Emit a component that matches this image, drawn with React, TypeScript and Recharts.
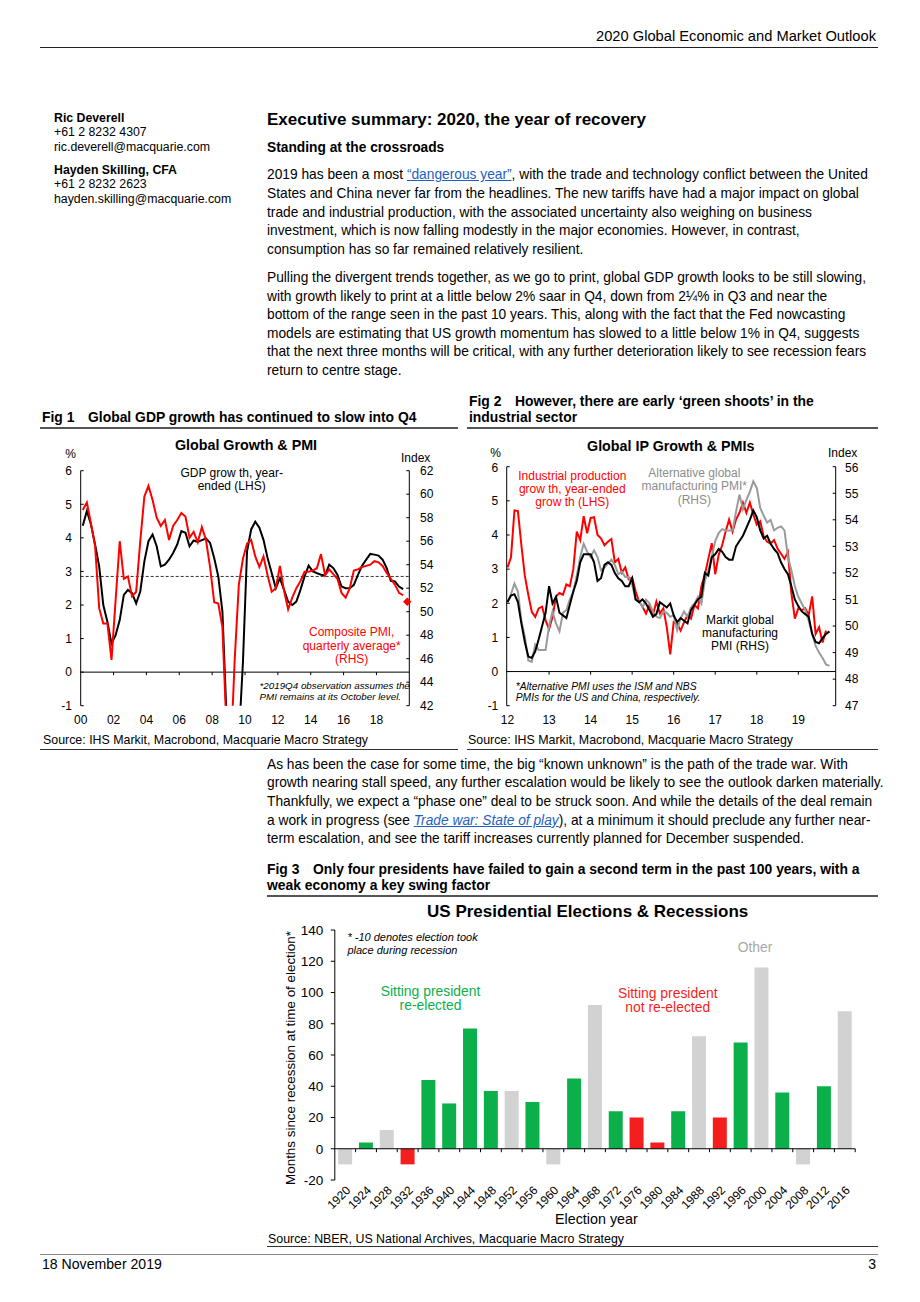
import React from "react"
import { Bar, BarChart, Cell, ComposedChart, Line, ReferenceLine, XAxis, YAxis } from "recharts"

const FONT = '"Liberation Sans", Arial, Helvetica, sans-serif'

// ---------- Fig 1: quarterly, 2000Q1 .. 2019Q3 ----------
const fig1Gdp = [
    4.36, 4.8, 4.4, 3.8, 3.15, 2.0, 1.5, 0.85, 1.1, 1.55, 2.3, 2.45, 2.35, 2.05, 2.4, 3.3,
    3.9, 4.1, 3.75, 3.15, 3.2, 3.35, 3.55, 3.8, 4.2, 4.15, 3.75, 3.92, 3.88, 3.93, 3.98, 3.85,
    3.4, 2.85, 1.8, -1.3, -2.5, -2.8, -2.0, 0.3, 3.6, 4.25, 4.48, 4.3, 3.94, 3.4, 2.95, 2.5,
    2.8, 2.45, 2.1, 2.0, 2.1, 2.45, 2.85, 3.17, 3.0, 2.95, 2.9, 2.88, 3.2, 3.1, 2.9, 2.55,
    2.5, 2.5, 2.6, 2.9, 3.17, 3.35, 3.52, 3.5, 3.47, 3.35, 3.1, 2.72, 2.7, 2.55, 2.47,
]
const fig1Pmi = [
    58.65, 59.3, 57.5, 55.6, 50.3, 49.0, 49.0, 45.9, 51.0, 56.0, 52.8, 53.0, 51.3, 51.7, 56.0, 59.8,
    60.7, 59.5, 58.0, 57.3, 57.8, 56.1, 57.3, 57.8, 58.4, 58.1, 56.3, 56.8, 55.9, 57.2, 56.1, 53.8,
    50.8, 50.7, 48.7, 40.0, 37.5, 46.0, 52.3, 54.5, 55.8, 56.1, 54.7, 53.8, 54.7, 53.1, 51.7, 52.0,
    53.9, 51.8, 50.2, 51.2, 52.0, 52.6, 53.4, 53.4, 53.5, 53.7, 54.9, 53.1, 53.6, 53.2, 52.8, 51.6,
    51.2, 52.0, 53.5, 53.6, 53.8, 53.9, 54.0, 54.3, 54.2, 53.9, 53.3, 52.8, 52.3, 51.6, 51.4,
]
const fig1PmiQ4 = 50.85
const fig1GdpAverage = 2.85
const fig1Years = [2000, 2002, 2004, 2006, 2008, 2010, 2012, 2014, 2016, 2018]
const fig1LeftTicks = [-1, 0, 1, 2, 3, 4, 5, 6]
const fig1RightTicks = [42, 44, 46, 48, 50, 52, 54, 56, 58, 60, 62]

const fig1Rows = fig1Pmi.concat([fig1PmiQ4]).map((_, i) => ({
    t: 2000 + i / 4 + 0.125,
    gdp: i < fig1Gdp.length ? fig1Gdp[i] : null,
    pmi: i < fig1Pmi.length ? fig1Pmi[i] : null,
    pmiEst: i === fig1Pmi.length ? fig1PmiQ4 : null,
}))

// ---------- Fig 2: monthly, Jan 2012 .. Oct 2019 ----------
const fig2Ip = [
    3.05, 3.35, 4.72, 4.7, 3.7, 2.8, 2.25, 1.75, 1.6, 1.85, 1.9, 1.5,
    1.25, 1.6, 2.2, 2.3, 2.25, 2.55, 2.5, 3.0, 4.1, 3.85, 4.55, 4.05,
    4.5, 4.52, 4.0, 3.9, 3.7, 3.8, 3.88, 3.2, 3.3, 2.9, 3.05, 2.7,
    2.75, 2.35, 2.05, 1.9, 1.7, 1.95, 1.65, 2.05, 1.7, 1.85, 1.3, 0.5,
    1.45, 1.4, 1.2, 1.45, 1.65, 1.55, 1.95, 1.85, 2.5, 2.84, 3.3, 3.76,
    2.85, 3.42, 3.7, 4.1, 4.45, 4.1, 4.45, 4.65, 4.95, 4.65, 4.95, 4.6,
    4.3, 4.4, 3.95, 3.8, 3.75, 3.85, 3.6, 3.45, 3.3, 3.5, 2.3, 1.55,
    1.85, 1.8, 1.85, 1.65, 2.2, 1.1, 1.3, 0.85, 1.2,
]
const fig2Markit = [
    50.9, 51.15, 51.2, 50.9, 50.1, 49.4, 48.85, 48.8, 49.05, 49.5, 50.0, 50.5,
    51.5, 50.85, 51.1, 50.5, 50.4, 50.3, 50.8, 51.3, 51.7, 52.4, 52.7, 52.7,
    52.7, 52.4, 51.7, 51.8, 52.3, 52.4, 52.3, 52.0, 51.8, 51.7, 51.5, 51.5,
    51.8, 51.0, 50.9, 51.0, 50.85, 50.6, 50.35, 50.45, 50.9, 50.8, 50.7, 50.85,
    50.4, 50.15, 50.3, 50.2, 50.1, 50.6, 50.8, 51.0, 51.1, 52.0, 51.9, 52.6,
    52.7, 52.9, 52.8, 52.6, 52.5, 52.5, 53.0, 53.2, 53.4, 53.7, 54.0, 54.35,
    54.1, 53.6, 53.3, 53.4, 53.1, 52.9, 52.75, 52.4, 52.15, 51.95, 51.5, 51.0,
    50.75, 50.55, 50.45, 50.35, 49.7, 49.4, 49.35, 49.55, 49.7, 49.8,
]
const fig2AltPmi = [
    50.9, 51.2, 51.6, 51.3, 50.2, 49.6, 48.7, 48.65, 49.3, 49.1, 49.1, 49.1,
    50.0, 50.55, 50.1, 49.8, 50.5, 50.6, 51.0, 51.3, 51.9, 52.6, 53.1, 52.8,
    52.6, 52.85, 52.6, 52.1, 52.2, 52.35, 52.5, 52.3, 51.95, 52.05, 51.85, 51.85,
    51.55, 51.0, 50.95, 50.7, 51.0, 50.85, 50.55, 50.35, 50.3, 50.55, 50.5, 50.35,
    50.4, 49.85, 50.3, 50.55, 50.35, 50.7, 50.85, 51.1, 50.85, 51.7, 52.1, 52.6,
    53.2, 53.5, 53.65, 53.6, 53.6, 53.6, 54.3, 54.95, 54.4, 54.75, 55.05, 55.45,
    55.2, 54.45, 54.15, 53.9, 54.0, 53.6, 53.7, 53.75, 53.6, 52.6, 52.1, 51.5,
    51.1, 50.85, 50.6, 50.2, 49.7, 49.25, 49.0, 48.8, 48.55, 48.5,
]
const fig2Years = [2012, 2013, 2014, 2015, 2016, 2017, 2018, 2019]
const fig2LeftTicks = [-1, 0, 1, 2, 3, 4, 5, 6]
const fig2RightTicks = [47, 48, 49, 50, 51, 52, 53, 54, 55, 56]

const fig2Rows = fig2Markit.map((v, m) => ({
    t: 2012 + m / 12,
    ip: m < fig2Ip.length ? fig2Ip[m] : null,
    markit: v,
    alt: fig2AltPmi[m],
}))

// ---------- Fig 3: elections ----------
const fig3Years = [
    "1920", "1924", "1928", "1932", "1936", "1940", "1944", "1948", "1952", "1956", "1960", "1964", "1968",
    "1972", "1976", "1980", "1984", "1988", "1992", "1996", "2000", "2004", "2008", "2012", "2016",
]
const fig3Months = [-10, 4, 12, -10, 44, 29, 77, 37, 37, 30, -10, 45, 92, 24, 20, 4, 24, 72, 20, 68, 116, 36, -10, 40, 88]
const fig3Outcome = [
    "other", "re", "other", "not", "re", "re", "re", "re", "other", "re", "other", "re", "other",
    "re", "not", "not", "re", "other", "not", "re", "other", "re", "other", "re", "other",
]
const fig3Ticks = [-20, 0, 20, 40, 60, 80, 100, 120, 140]
const outcomeColor: Record<string, string> = { re: "#0CB04A", not: "#F51E1E", other: "#D2D2D2" }

const fig3Rows = fig3Years.map((year, i) => ({ year, months: fig3Months[i], outcome: fig3Outcome[i] }))

// ---------- helpers ----------
interface ITxt {
    x: number
    y: number
    size?: number
    bold?: boolean
    italic?: boolean
    color?: string
    anchor?: "start" | "middle" | "end"
    children: React.ReactNode
}

const Txt = ({ x, y, size = 12, bold, italic, color = "#000", anchor = "start", children }: ITxt) => {
    const style: React.CSSProperties = {
        position: "absolute",
        top: y - size * 0.6,
        fontSize: size,
        lineHeight: `${size * 1.2}px`,
        whiteSpace: "nowrap",
        fontWeight: bold ? 700 : 400,
        fontStyle: italic ? "italic" : "normal",
        color,
    }
    if (anchor === "start") style.left = x
    if (anchor === "end") style.right = 920 - x
    if (anchor === "middle") {
        style.left = x
        style.transform = "translateX(-50%)"
    }
    return <div style={style}>{children}</div>
}

const Rule = ({ x, y, w, h = 1, color = "#000" }: { x: number; y: number; w: number; h?: number; color?: string }) => (
    <div style={{ position: "absolute", left: x, top: y, width: w, height: h, background: color }} />
)

const Link = ({ children, italic }: { children: React.ReactNode; italic?: boolean }) => (
    <span style={{ color: "#1F5FC0", textDecoration: "underline", fontStyle: italic ? "italic" : "normal" }}>{children}</span>
)

const BODY = 13.75
const TITLE = 13.9
const tickStyle = { fontSize: 12, fill: "#000", fontFamily: FONT }

const Diamond = (props: any) => {
    const { cx, cy, value } = props
    if (value == null || cy == null || cx == null) return <g key={props.key} />
    const r = 4.2
    return <path key={props.key} d={`M${cx},${cy - r}L${cx + r},${cy}L${cx},${cy + r}L${cx - r},${cy}Z`} fill="#FF0000" />
}

const YearTick = (props: any) => {
    const { x, y, payload } = props
    return (
        <g transform={`translate(${x + 3},${y})rotate(-45)`}>
            <text textAnchor="end" dy="0.35em" fontSize={12} fill="#000" fontFamily={FONT}>
                {payload.value}
            </text>
        </g>
    )
}

const Fig1Chart = () => (
    <ComposedChart width={420} height={270} data={fig1Rows} margin={{ top: 10.7, right: 0, bottom: 0, left: 0 }}>
        <XAxis dataKey="t" type="number" domain={[2000, 2020]} ticks={fig1Years} tickFormatter={(v) => String(v).slice(2)}
            axisLine={false} tickLine={false} tickSize={0} tickMargin={10} height={24.3} tick={tickStyle} />
        <YAxis yAxisId="left" width={40.7} domain={[-1, 6]} ticks={fig1LeftTicks} allowDataOverflow
            axisLine={{ stroke: "#000" }} tickLine={{ stroke: "#000" }} tickSize={-3} tickMargin={11.7} tick={tickStyle} />
        <YAxis yAxisId="right" orientation="right" width={50.7} domain={[42, 62]} ticks={fig1RightTicks} allowDataOverflow
            axisLine={{ stroke: "#000" }} tickLine={{ stroke: "#000" }} tickSize={-3} tickMargin={13.7} tick={tickStyle} />
        <ReferenceLine yAxisId="left" y={0} stroke="#000" strokeWidth={1} />
        {fig1Years.filter((yr) => yr > 2000).map((yr) => (
            <ReferenceLine key={yr} yAxisId="left" segment={[{ x: yr, y: 0 }, { x: yr, y: -0.09 }]} stroke="#000" ifOverflow="visible" />
        ))}
        <ReferenceLine yAxisId="left" y={fig1GdpAverage} stroke="#333" strokeDasharray="3 2" strokeWidth={1} />
        <Line yAxisId="left" dataKey="gdp" stroke="#000" strokeWidth={2} dot={false} activeDot={false} isAnimationActive={false} />
        <Line yAxisId="right" dataKey="pmi" stroke="#FF0000" strokeWidth={2} dot={false} activeDot={false} isAnimationActive={false} />
        <Line yAxisId="right" dataKey="pmiEst" stroke="none" dot={Diamond} activeDot={false} isAnimationActive={false} />
    </ComposedChart>
)

const Fig2Chart = () => (
    <ComposedChart width={411} height={270} data={fig2Rows} margin={{ top: 6.7, right: 0, bottom: 0, left: 0 }}>
        <XAxis dataKey="t" type="number" domain={[2011.98, 2019.9]} ticks={fig2Years} tickFormatter={(v) => String(v).slice(2)}
            axisLine={false} tickLine={false} tickSize={0} tickMargin={10} height={24.3} tick={tickStyle} />
        <YAxis yAxisId="left" width={39.7} domain={[-1, 6]} ticks={fig2LeftTicks}
            axisLine={{ stroke: "#000" }} tickLine={{ stroke: "#000" }} tickSize={-3} tickMargin={11.4} tick={tickStyle} />
        <YAxis yAxisId="right" orientation="right" width={42.3} domain={[47, 56]} ticks={fig2RightTicks}
            axisLine={{ stroke: "#000" }} tickLine={{ stroke: "#000" }} tickSize={-3} tickMargin={12.3} tick={tickStyle} />
        <ReferenceLine yAxisId="left" y={0} stroke="#000" strokeWidth={1} />
        {fig2Years.filter((yr) => yr > 2012).map((yr) => (
            <ReferenceLine key={yr} yAxisId="left" segment={[{ x: yr, y: 0 }, { x: yr, y: -0.09 }]} stroke="#000" ifOverflow="visible" />
        ))}
        <Line yAxisId="left" dataKey="ip" stroke="#FF0000" strokeWidth={2} dot={false} activeDot={false} isAnimationActive={false} />
        <Line yAxisId="right" dataKey="alt" stroke="#9A9A9A" strokeWidth={2} dot={false} activeDot={false} isAnimationActive={false} />
        <Line yAxisId="right" dataKey="markit" stroke="#000" strokeWidth={2} dot={false} activeDot={false} isAnimationActive={false} />
    </ComposedChart>
)

const Fig3Chart = () => (
    <BarChart width={590} height={300} data={fig3Rows} margin={{ top: 10, right: 9.8, bottom: 0, left: 0 }} barCategoryGap="16%">
        <XAxis dataKey="year" axisLine={false} tickLine={false} tickSize={0} tickMargin={8} height={40} interval={0} tick={<YearTick />} />
        <YAxis width={59.8} domain={[-20, 140]} ticks={fig3Ticks} axisLine={{ stroke: "#000" }} tickLine={{ stroke: "#000" }}
            tickSize={4} tickMargin={7.5} tick={{ ...tickStyle, fontSize: 13.5 }} />
        <Bar dataKey="months" isAnimationActive={false}>
            {fig3Rows.map((r) => (
                <Cell key={r.year} fill={outcomeColor[r.outcome]} />
            ))}
        </Bar>
        <ReferenceLine y={0} stroke="#000" strokeWidth={1.2} />
        {fig3Years.map((yr) => (
            <ReferenceLine key={yr} segment={[{ x: yr, y: 0 }, { x: yr, y: -2.2 }]} position="end" stroke="#000" ifOverflow="visible" />
        ))}
    </BarChart>
)

const para1 = [
    <>2019 has been a most <Link>“dangerous year”</Link>, with the trade and technology conflict between the United</>,
    "States and China never far from the headlines. The new tariffs have had a major impact on global",
    "trade and industrial production, with the associated uncertainty also weighing on business",
    "investment, which is now falling modestly in the major economies. However, in contrast,",
    "consumption has so far remained relatively resilient.",
]
const para1Y = [175.5, 194.2, 212.9, 231.6, 250.3]

const para2 = [
    "Pulling the divergent trends together, as we go to print, global GDP growth looks to be still slowing,",
    "with growth likely to print at a little below 2% saar in Q4, down from 2¼% in Q3 and near the",
    "bottom of the range seen in the past 10 years. This, along with the fact that the Fed nowcasting",
    "models are estimating that US growth momentum has slowed to a little below 1% in Q4, suggests",
    "that the next three months will be critical, with any further deterioration likely to see recession fears",
    "return to centre stage.",
]
const para2Y = [278.3, 296.9, 315.6, 334.2, 352.6, 371]

const para3 = [
    "As has been the case for some time, the big “known unknown” is the path of the trade war. With",
    "growth nearing stall speed, any further escalation would be likely to see the outlook darken materially.",
    "Thankfully, we expect a “phase one” deal to be struck soon. And while the details of the deal remain",
    <>a work in progress (see <Link italic>Trade war: State of play</Link>), at a minimum it should preclude any further near-</>,
    "term escalation, and see the tariff increases currently planned for December suspended.",
]
const para3Y = [765, 783.7, 802.3, 821, 839.6]

export default function App() {
    return (
        <div style={{ position: "absolute", left: 0, top: 0, width: 920, height: 1302, background: "#fff", fontFamily: FONT, color: "#000", overflow: "hidden" }}>
            {/* header */}
            <Txt x={876} y={37} size={14.7} anchor="end">2020 Global Economic and Market Outlook</Txt>
            <Rule x={40} y={47} w={838} color="#222" />

            {/* authors */}
            <Txt x={54} y={118.3} size={12.3} bold>Ric Deverell</Txt>
            <Txt x={54} y={132.7} size={12.3}>+61 2 8232 4307</Txt>
            <Txt x={54} y={147} size={12.3}>ric.deverell@macquarie.com</Txt>
            <Txt x={54} y={170} size={12.3} bold>Hayden Skilling, CFA</Txt>
            <Txt x={54} y={184.3} size={12.3}>+61 2 8232 2623</Txt>
            <Txt x={54} y={199} size={12.3}>hayden.skilling@macquarie.com</Txt>

            <Txt x={267} y={120} size={17} bold>Executive summary: 2020, the year of recovery</Txt>
            <Txt x={267} y={148.7} size={BODY} bold>Standing at the crossroads</Txt>
            {para1.map((l, i) => <Txt key={i} x={267} y={para1Y[i]} size={BODY}>{l}</Txt>)}
            {para2.map((l, i) => <Txt key={i} x={267} y={para2Y[i]} size={BODY}>{l}</Txt>)}

            {/* Fig 1 */}
            <Txt x={42} y={417} size={TITLE} bold>Fig 1</Txt>
            <Txt x={88} y={417} size={TITLE} bold>Global GDP growth has continued to slow into Q4</Txt>
            <Rule x={40} y={427} w={418} h={2} color="#555" />
            <Txt x={246} y={445.7} size={14.3} bold anchor="middle">Global Growth &amp; PMI</Txt>
            <Txt x={70.7} y={454} size={12} anchor="middle">%</Txt>
            <Txt x={415.7} y={458} size={12} anchor="middle">Index</Txt>
            <div style={{ position: "absolute", left: 40, top: 460 }}>
                <Fig1Chart />
            </div>
            <Txt x={231.7} y={473.3} size={12} anchor="middle">GDP grow th, year-</Txt>
            <Txt x={231.7} y={485.7} size={12} anchor="middle">ended (LHS)</Txt>
            <Txt x={351.7} y={632.3} size={12} anchor="middle" color="#FF0000">Composite PMI,</Txt>
            <Txt x={351.7} y={645.7} size={12} anchor="middle" color="#FF0000">quarterly average*</Txt>
            <Txt x={351.7} y={658.7} size={12} anchor="middle" color="#FF0000">(RHS)</Txt>
            <Txt x={259.5} y={686} size={9.8} italic>*2019Q4 observation assumes the</Txt>
            <Txt x={259.5} y={697} size={9.8} italic>PMI remains at its October level.</Txt>
            <Txt x={43} y={740.5} size={12.4}>Source: IHS Markit, Macrobond, Macquarie Macro Strategy</Txt>
            <Rule x={40} y={749} w={418} color="#333" />

            {/* Fig 2 */}
            <Txt x={469} y={401} size={TITLE} bold>Fig 2</Txt>
            <Txt x={515} y={401} size={TITLE} bold>However, there are early ‘green shoots’ in the</Txt>
            <Txt x={469} y={417} size={TITLE} bold>industrial sector</Txt>
            <Rule x={467} y={427} w={411} h={2} color="#555" />
            <Txt x={670.7} y={446.7} size={14.3} bold anchor="middle">Global IP Growth &amp; PMIs</Txt>
            <Txt x={495.7} y={452.7} size={12} anchor="middle">%</Txt>
            <Txt x={842.7} y={453} size={12} anchor="middle">Index</Txt>
            <div style={{ position: "absolute", left: 467, top: 460 }}>
                <Fig2Chart />
            </div>
            <Txt x={572.3} y={475.7} size={12} anchor="middle" color="#FF0000">Industrial production</Txt>
            <Txt x={572.3} y={489} size={12} anchor="middle" color="#FF0000">grow th, year-ended</Txt>
            <Txt x={572.3} y={502.3} size={12} anchor="middle" color="#FF0000">grow th (LHS)</Txt>
            <Txt x={694.3} y={472.7} size={12} anchor="middle" color="#8C8C8C">Alternative global</Txt>
            <Txt x={694.3} y={485.7} size={12} anchor="middle" color="#8C8C8C">manufacturing PMI*</Txt>
            <Txt x={694.3} y={500} size={12} anchor="middle" color="#8C8C8C">(RHS)</Txt>
            <Txt x={740} y={620} size={12} anchor="middle">Markit global</Txt>
            <Txt x={740} y={633} size={12} anchor="middle">manufacturing</Txt>
            <Txt x={740} y={646} size={12} anchor="middle">PMI  (RHS)</Txt>
            <Txt x={515.7} y={686.7} size={10.3} italic>*Alternative PMI uses the ISM and NBS</Txt>
            <Txt x={515.7} y={698} size={10.3} italic>PMIs for the US and China, respectively.</Txt>
            <Txt x={468} y={740.5} size={12.4}>Source: IHS Markit, Macrobond, Macquarie Macro Strategy</Txt>
            <Rule x={467} y={749} w={411} color="#333" />

            {para3.map((l, i) => <Txt key={i} x={267} y={para3Y[i]} size={BODY}>{l}</Txt>)}

            {/* Fig 3 */}
            <Txt x={267} y={869} size={TITLE} bold>Fig 3</Txt>
            <Txt x={313} y={869} size={TITLE} bold>Only four presidents have failed to gain a second term in the past 100 years, with a</Txt>
            <Txt x={267} y={885} size={TITLE} bold>weak economy a key swing factor</Txt>
            <Rule x={267} y={895} w={611} h={2} color="#555" />
            <Txt x={587.7} y={912} size={17} bold anchor="middle">US Presidential Elections &amp; Recessions</Txt>
            <div style={{ position: "absolute", left: 275, top: 920 }}>
                <Fig3Chart />
            </div>
            <Txt x={347.4} y={938} size={11} italic>* -10 denotes election took</Txt>
            <Txt x={347.4} y={951} size={11} italic>place during recession</Txt>
            <Txt x={430.5} y={991} size={13.9} anchor="middle" color="#0CB04A">Sitting president</Txt>
            <Txt x={430.5} y={1005.7} size={13.9} anchor="middle" color="#0CB04A">re-elected</Txt>
            <Txt x={667.7} y={993.3} size={13.9} anchor="middle" color="#F51E1E">Sitting president</Txt>
            <Txt x={667.7} y={1007.7} size={13.9} anchor="middle" color="#F51E1E">not re-elected</Txt>
            <Txt x={755} y={947.3} size={13.9} anchor="middle" color="#A8A8A8">Other</Txt>
            <div style={{ position: "absolute", left: 290.5, top: 1058, transform: "translate(-50%,-50%) rotate(-90deg)", whiteSpace: "nowrap", fontSize: 13.4, lineHeight: "16px" }}>
                Months since  recession at time of election*
            </div>
            <Txt x={596.4} y={1220} size={14.3} anchor="middle">Election year</Txt>
            <Txt x={268} y={1239} size={12.4}>Source: NBER, US National Archives, Macquarie Macro Strategy</Txt>
            <Rule x={267} y={1246} w={611} color="#333" />

            {/* footer */}
            <Rule x={40} y={1253.5} w={838} color="#888" />
            <Txt x={42} y={1264} size={14.1}>18 November 2019</Txt>
            <Txt x={876} y={1264} size={14.1} anchor="end">3</Txt>
        </div>
    )
}
